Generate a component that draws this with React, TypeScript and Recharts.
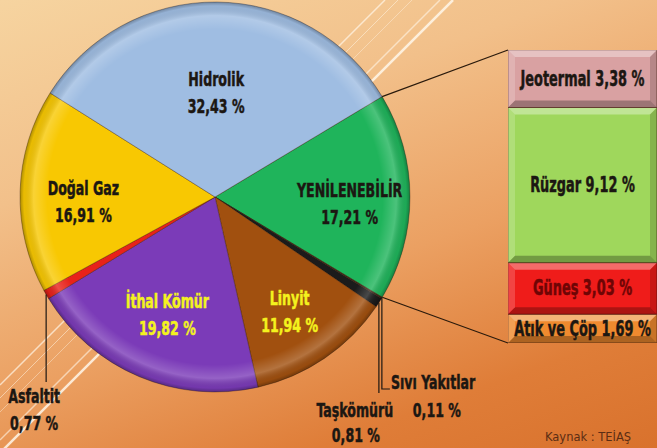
import { PieChart, Pie, Cell, BarChart, Bar, XAxis, YAxis, LabelList } from "recharts";

// main pie (clockwise, starting at the top edge of the renewables slice)
const sliceNames = ["YENİLENEBİLİR", "Sıvı Yakıtlar", "Taşkömürü", "Linyit", "İthal Kömür", "Asfaltit", "Doğal Gaz", "Hidrolik"];
const sliceValues = [17.21, 0.11, 0.81, 11.94, 19.82, 0.77, 16.91, 32.43];
const sliceColors = ["#1fb45b", "#3a2c20", "#1b1b1b", "#a1500f", "#7b3bb8", "#e8221a", "#f8c802", "#9fbde2"];

// renewables breakdown (stacked bottom -> top)
const renewKeys = ["atik", "gunes", "ruzgar", "jeotermal"];
const renewNames = ["Atık ve Çöp", "Güneş", "Rüzgar", "Jeotermal"];
const renewValues = [1.69, 3.03, 9.12, 3.38];
const renewColors = ["#ef8a2f", "#ef1c1a", "#9fd75c", "#d9a1a2"];

const pieData = sliceNames.map((name, i) => ({ name, value: sliceValues[i] }));
const barRow: Record<string, number | string> = { name: "YENİLENEBİLİR" };
renewKeys.forEach((k, i) => (barRow[k] = renewValues[i]));
const barTotal = renewValues.reduce((a, b) => a + b, 0);

const W = 657;
const H = 448;
const CX = 215;
const CY = 197;
const R = 195;
const BAR_X = 508;
const BAR_Y = 50;
const BAR_W = 149;
const BAR_H = 293;

const RAD = Math.PI / 180;
const FONT = "'DejaVu Sans Condensed', 'DejaVu Sans', sans-serif";
const SX = 0.7; // squeeze to mimic the condensed face of the original
const fmt = (v: number) => v.toFixed(2).replace(".", ",") + " %";
const DARK = "#1c1712";

// small hand nudges for the in-slice labels
const nudge: Record<string, [number, number]> = {
  "YENİLENEBİLİR": [2, 6],
  "Doğal Gaz": [1, 8],
  "İthal Kömür": [4, -5],
  "Linyit": [0, 4],
};

function T({ x, y, anchor = "middle", color = DARK, size = 20, children }: any) {
  return (
    <text
      transform={`translate(${x},${y}) scale(${SX},1)`}
      textAnchor={anchor}
      dominantBaseline="central"
      fill={color}
      stroke={color}
      strokeWidth={0.5}
      fontFamily={FONT}
      fontWeight={700}
      fontSize={size}
    >
      {children}
    </text>
  );
}

function pieLabel(p: any) {
  const { cx, cy, midAngle, outerRadius, index, value, name, percent } = p;
  const pt = (a: number, r: number) => [cx + r * Math.cos(-a * RAD), cy + r * Math.sin(-a * RAD)];
  const half = percent * 180;
  const sa = p.startAngle ?? midAngle + half;
  const ea = p.endAngle ?? midAngle - half;

  // small slices get a leader line and a label below the pie
  if (name === "Asfaltit") {
    const [x0, y0] = pt(midAngle, outerRadius);
    return (
      <g>
        <line x1={x0} y1={y0} x2={x0} y2={cy + outerRadius - 10} stroke={DARK} strokeWidth={1.2} />
        <T x={x0 - 12} y={cy + outerRadius + 4}>{name}</T>
        <T x={x0 - 12} y={cy + outerRadius + 31}>{fmt(value)}</T>
      </g>
    );
  }
  if (name === "Taşkömürü") {
    const [x0, y0] = pt(midAngle, outerRadius);
    return (
      <g>
        <line x1={x0} y1={y0} x2={x0} y2={cy + outerRadius + 1} stroke={DARK} strokeWidth={1.2} />
        <T x={x0 - 24} y={cy + outerRadius + 18}>{name}</T>
        <T x={x0 - 23} y={cy + outerRadius + 43}>{fmt(value)}</T>
      </g>
    );
  }
  if (name === "Sıvı Yakıtlar") {
    const [x0, y0] = pt(midAngle, outerRadius);
    const yEnd = cy + outerRadius - 3;
    return (
      <g>
        <polyline points={`${x0},${y0} ${x0},${yEnd} ${x0 + 8},${yEnd}`} fill="none" stroke={DARK} strokeWidth={1.2} />
        <T x={x0 + 9} y={cy + outerRadius - 10} anchor="start">{name}</T>
        <T x={x0 + 55} y={cy + outerRadius + 18}>{fmt(value)}</T>
      </g>
    );
  }

  const k = name === "Hidrolik" ? 0.54 : 0.68;
  const [dx, dy] = nudge[name] ?? [0, 0];
  const [px, py] = pt(midAngle, outerRadius * k);
  const lx = px + dx;
  const ly = py + dy;
  const color = name === "Linyit" || name === "İthal Kömür" ? "#f4f21e" : DARK;
  let lines = null;
  if (index === 0) {
    const [ax, ay] = pt(sa, outerRadius);
    const [bx, by] = pt(ea, outerRadius);
    lines = (
      <>
        <line x1={ax} y1={ay} x2={BAR_X} y2={BAR_Y} stroke="#2a1a0c" strokeWidth={1.2} />
        <line x1={bx} y1={by} x2={BAR_X} y2={BAR_Y + BAR_H} stroke="#2a1a0c" strokeWidth={1.2} />
      </>
    );
  }
  return (
    <g>
      {lines}
      <T x={lx} y={ly - 13} color={color}>{name}</T>
      <T x={lx} y={ly + 14} color={color}>{fmt(value)}</T>
    </g>
  );
}

function Bevel(props: any) {
  const { x, y, width: w, height: h, fill } = props;
  const b = 7;
  return (
    <g>
      <rect x={x} y={y} width={w} height={h} fill={fill} stroke="rgba(70,25,10,0.6)" strokeWidth={1} />
      <polygon points={`${x},${y} ${x + w},${y} ${x + w - b},${y + b} ${x + b},${y + b}`} fill="rgba(255,255,255,0.35)" />
      <polygon points={`${x},${y} ${x + b},${y + b} ${x + b},${y + h - b} ${x},${y + h}`} fill="rgba(255,255,255,0.18)" />
      <polygon points={`${x},${y + h} ${x + b},${y + h - b} ${x + w - b},${y + h - b} ${x + w},${y + h}`} fill="rgba(0,0,0,0.28)" />
      <polygon points={`${x + w},${y} ${x + w},${y + h} ${x + w - b},${y + h - b} ${x + w - b},${y + b}`} fill="rgba(0,0,0,0.16)" />
    </g>
  );
}

const barLabel = (name: string, color: string) => (p: any) => {
  const { x, y, width, height, value } = p;
  return (
    <T x={x + width / 2} y={y + height / 2} color={color} size={20.5}>
      {`${name} ${fmt(value)}`}
    </T>
  );
};

export default function App() {
  return (
    <div
      style={{
        position: "relative",
        width: W,
        height: H,
        overflow: "hidden",
        background: "linear-gradient(160deg, #f6d4a0 0%, #f2c08a 30%, #eba062 58%, #df7d38 82%, #d9722d 100%)",
      }}
    >
      <style>{"body{margin:0}"}</style>
      <svg width={W} height={H} style={{ position: "absolute", left: 0, top: 0 }}>
        {[385, 398, 412, 440, 453].map((c, i) => (
          <line key={c} x1={c} y1={0} x2={0} y2={c} stroke="#fff7ea" strokeOpacity={[0.7, 0.5, 0.4, 0.6, 0.85][i]} strokeWidth={[1.5, 1, 1, 1.5, 2.5][i]} />
        ))}
        <text x={545} y={437} fill="#5b2d14" fontFamily="'DejaVu Sans', sans-serif" fontSize={12.5} dominantBaseline="central" transform="translate(545,0) scale(0.92,1) translate(-545,0)">
          Kaynak : TEİAŞ
        </text>
      </svg>
      <div style={{ position: "absolute", left: 0, top: 0 }}>
        <PieChart width={W} height={H} margin={{ top: 0, right: 0, bottom: 0, left: 0 }}>
          <defs>
            <radialGradient id="rim" cx="50%" cy="50%" r="50%">
              <stop offset="0%" stopColor="#fff" stopOpacity={0} />
              <stop offset="86%" stopColor="#fff" stopOpacity={0} />
              <stop offset="93%" stopColor="#fff" stopOpacity={0.2} />
              <stop offset="98%" stopColor="#000" stopOpacity={0.06} />
              <stop offset="100%" stopColor="#000" stopOpacity={0.3} />
            </radialGradient>
          </defs>
          <Pie
            data={pieData}
            dataKey="value"
            nameKey="name"
            cx={CX}
            cy={CY}
            outerRadius={R}
            startAngle={31}
            endAngle={-329}
            label={pieLabel}
            labelLine={false}
            isAnimationActive={false}
          >
            {pieData.map((d, i) => (
              <Cell key={d.name} fill={sliceColors[i]} stroke="rgba(50,30,15,0.35)" strokeWidth={1} />
            ))}
          </Pie>
          <Pie
            data={[{ name: "rim", value: 1 }]}
            dataKey="value"
            cx={CX}
            cy={CY}
            outerRadius={R}
            fill="url(#rim)"
            stroke="none"
            isAnimationActive={false}
          />
        </PieChart>
      </div>
      <div style={{ position: "absolute", left: BAR_X, top: BAR_Y }}>
        <BarChart width={BAR_W} height={BAR_H} data={[barRow]} margin={{ top: 0, right: 0, bottom: 0, left: 0 }} barCategoryGap={0}>
          <XAxis dataKey="name" hide />
          <YAxis hide domain={[0, barTotal]} />
          {renewKeys.map((k, i) => (
            <Bar key={k} dataKey={k} stackId="r" fill={renewColors[i]} shape={<Bevel />} isAnimationActive={false}>
              <LabelList dataKey={k} content={barLabel(renewNames[i], renewNames[i] === "Güneş" ? "#6e0505" : DARK)} />
            </Bar>
          ))}
        </BarChart>
      </div>
    </div>
  );
}
